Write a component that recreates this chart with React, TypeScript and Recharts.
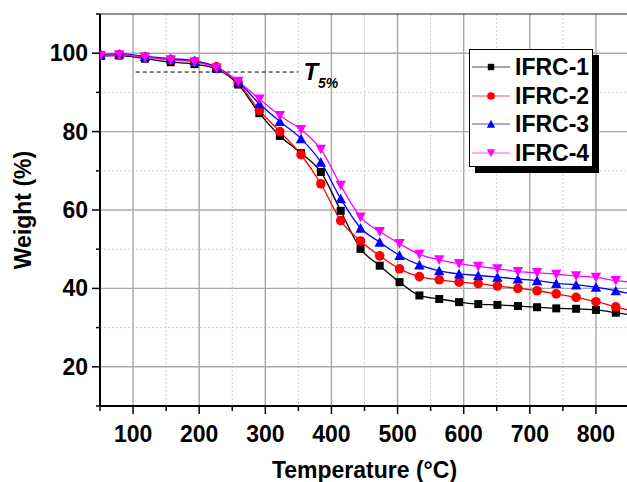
import {
  CartesianGrid,
  Legend,
  Line,
  LineChart,
  ReferenceLine,
  XAxis,
  YAxis,
} from "recharts";

const FONT = '"Liberation Sans", Arial, sans-serif';

// temperature of each sample (°C)
const temps = [51, 79, 118, 157, 193, 226, 259, 291, 322, 354, 384, 414, 444, 473, 503, 533, 563, 593, 622, 651, 682, 711, 740, 770, 800, 830, 860];

// weight (%)
const ifrc1 = [99.3, 99.4, 98.6, 97.7, 97.2, 96.0, 92.0, 84.7, 78.9, 74.5, 69.7, 59.8, 50.1, 45.8, 41.6, 38.2, 37.3, 36.5, 36.0, 35.8, 35.5, 35.2, 34.9, 34.8, 34.5, 33.8, 33.0];
const ifrc2 = [99.5, 99.6, 99.0, 98.3, 97.9, 96.5, 92.5, 85.4, 80.0, 74.1, 66.7, 57.3, 52.1, 48.3, 45.0, 43.0, 42.2, 41.6, 41.2, 40.6, 40.0, 39.4, 38.6, 37.7, 36.6, 35.3, 34.0];
const ifrc3 = [99.6, 99.8, 99.2, 98.6, 98.1, 96.3, 92.7, 87.1, 82.6, 78.2, 72.2, 62.9, 55.4, 51.8, 48.4, 46.0, 44.5, 43.7, 43.3, 42.9, 42.4, 42.0, 41.3, 40.9, 40.3, 39.4, 38.3];
const ifrc4 = [99.4, 99.6, 99.0, 98.3, 97.8, 96.2, 92.8, 88.3, 84.1, 80.5, 75.5, 66.3, 58.2, 54.5, 51.4, 48.7, 47.3, 46.3, 45.6, 45.0, 44.3, 44.0, 43.6, 43.2, 42.8, 42.0, 41.5];

const xTicks = [50, 100, 150, 200, 250, 300, 350, 400, 450, 500, 550, 600, 650, 700, 750, 800, 850];
const yTicks = [10, 20, 30, 40, 50, 60, 70, 80, 90, 100, 110];
const xMajor = [100, 200, 300, 400, 500, 600, 700, 800];
const xMinor = [150, 250, 350, 450, 550, 650, 750];
const yMajor = [20, 40, 60, 80, 100];
const yMinor = [30, 50, 70, 90];

// T5% marker line
const t5Start = 104;
const t5End = 350;
const t5Weight = 95.2;

const series = [
  { key: "ifrc1", name: "IFRC-1", color: "#000000", shape: "square" },
  { key: "ifrc2", name: "IFRC-2", color: "#ff0000", shape: "circle" },
  { key: "ifrc3", name: "IFRC-3", color: "#0000ff", shape: "up" },
  { key: "ifrc4", name: "IFRC-4", color: "#ff00ff", shape: "down" },
];

const data = temps.map((t, i) => ({
  t,
  ifrc1: ifrc1[i],
  ifrc2: ifrc2[i],
  ifrc3: ifrc3[i],
  ifrc4: ifrc4[i],
}));

function Marker({ cx, cy, shape, color, s = 1 }: any) {
  if (cx == null || cy == null) return null;
  if (shape === "square") {
    const h = 4 * s;
    return <rect x={cx - h} y={cy - h} width={2 * h} height={2 * h} fill={color} />;
  }
  if (shape === "circle") {
    return <circle cx={cx} cy={cy} r={4.8 * s} fill={color} />;
  }
  const w = 5.2 * s;
  const h = 4.6 * s;
  if (shape === "up") {
    return <polygon points={`${cx},${cy - h - 0.5} ${cx - w},${cy + h} ${cx + w},${cy + h}`} fill={color} />;
  }
  return <polygon points={`${cx},${cy + h + 0.5} ${cx - w},${cy - h} ${cx + w},${cy - h}`} fill={color} />;
}

function XTick({ x, y, payload }: any) {
  const v = payload.value;
  const major = v % 100 === 0;
  return (
    <g>
      <line x1={x} x2={x} y1={y} y2={y + (major ? 8 : 5)} stroke="#000" strokeWidth={1.5} />
      {major && (
        <text x={x} y={y + 36} textAnchor="middle" fontFamily={FONT} fontWeight="bold" fontSize={23} fill="#000">
          {v}
        </text>
      )}
    </g>
  );
}

function YTick({ x, y, payload }: any) {
  const v = payload.value;
  const major = v % 20 === 0 && v > 10 && v < 110;
  return (
    <g>
      <line x1={x} x2={x - (major ? 8 : 4)} y1={y} y2={y} stroke="#000" strokeWidth={1.5} />
      {major && (
        <text x={x - 12} y={y + 8} textAnchor="end" fontFamily={FONT} fontWeight="bold" fontSize={23} fill="#000">
          {v}
        </text>
      )}
    </g>
  );
}

function LegendBox() {
  return (
    <div
      style={{
        boxSizing: "border-box",
        width: 124,
        height: 118,
        border: "1px solid #000",
        background: "#fff",
        boxShadow: "6px 6px 0 #000",
        paddingTop: 3,
        fontFamily: FONT,
        fontWeight: "bold",
        fontSize: 23,
        color: "#000",
      }}
    >
      {series.map((s) => (
        <div key={s.key} style={{ display: "flex", alignItems: "center", height: 28.5 }}>
          <svg width={45} height={20} style={{ display: "block" }}>
            <line x1={2} x2={40} y1={10} y2={10} stroke={s.color} strokeWidth={1} opacity={0.7} />
            <Marker cx={21} cy={10} shape={s.shape} color={s.color} s={0.8} />
          </svg>
          <span style={{ lineHeight: "28px" }}>{s.name}</span>
        </div>
      ))}
    </div>
  );
}

function T5Label({ viewBox }: any) {
  const x = viewBox.x + viewBox.width + 5;
  const y = viewBox.y;
  return (
    <text x={x} y={y + 8} fontFamily={FONT} fontWeight="bold" fontStyle="italic" fill="#000">
      <tspan fontSize={24}>T</tspan>
      <tspan fontSize={14} dy={8} dx={0}>5%</tspan>
    </text>
  );
}

export default function App() {
  return (
    <div style={{ position: "fixed", left: 0, top: 0, width: 627, height: 482, overflow: "hidden", background: "#fff" }}>
      <LineChart width={640} height={482} data={data} margin={{ top: 14, right: 11, left: 0, bottom: 0 }}>
        <CartesianGrid
          horizontalValues={yMinor}
          verticalValues={xMinor}
          stroke="#cfcfcf"
          strokeDasharray="2 2"
          strokeWidth={1}
        />
        <CartesianGrid horizontalValues={yMajor} verticalValues={xMajor} stroke="#a8a8a8" strokeWidth={1.4} />
        <XAxis
          type="number"
          dataKey="t"
          domain={[50, 850]}
          allowDataOverflow
          ticks={xTicks}
          interval={0}
          tickSize={0}
          tickMargin={0}
          tickLine={false}
          axisLine={{ stroke: "#000", strokeWidth: 2 }}
          tick={(p: any) => <XTick {...p} />}
          height={76}
          label={{
            content: ({ viewBox }: any) => (
              <text
                x={viewBox.x + viewBox.width / 2}
                y={viewBox.y + 72}
                textAnchor="middle"
                fontFamily={FONT}
                fontWeight="bold"
                fontSize={23}
                fill="#000"
              >
                Temperature (°C)
              </text>
            ),
          }}
        />
        <YAxis
          type="number"
          domain={[10, 110]}
          allowDataOverflow
          ticks={yTicks}
          interval={0}
          tickSize={0}
          tickMargin={0}
          tickLine={false}
          axisLine={{ stroke: "#000", strokeWidth: 2 }}
          tick={(p: any) => <YTick {...p} />}
          width={100}
          label={{
            content: ({ viewBox }: any) => {
              const cx = 23;
              const cy = viewBox.y + viewBox.height / 2;
              return (
                <text
                  x={cx}
                  y={cy}
                  transform={`rotate(-90 ${cx} ${cy})`}
                  textAnchor="middle"
                  dominantBaseline="central"
                  fontFamily={FONT}
                  fontWeight="bold"
                  fontSize={23}
                  fill="#000"
                >
                  Weight (%)
                </text>
              );
            },
          }}
        />
        <ReferenceLine y={110} stroke="#222" strokeWidth={1} />
        <ReferenceLine
          segment={[
            { x: t5Start, y: t5Weight },
            { x: t5End, y: t5Weight },
          ]}
          stroke="#000"
          strokeWidth={1}
          strokeDasharray="4 3"
          label={(p: any) => <T5Label {...p} />}
        />
        {series.map((s) => (
          <Line
            key={s.key}
            type="monotone"
            dataKey={s.key}
            name={s.name}
            stroke={s.color}
            strokeWidth={1.3}
            isAnimationActive={false}
            dot={(p: any) => <Marker key={`${s.key}-${p.index}`} cx={p.cx} cy={p.cy} shape={s.shape} color={s.color} />}
            activeDot={false}
          />
        ))}
        <Legend
          layout="horizontal"
          verticalAlign="middle"
          align="center"
          content={() => <LegendBox />}
          wrapperStyle={{ left: 469, top: 49, width: 124, height: 118 }}
        />
      </LineChart>
    </div>
  );
}
